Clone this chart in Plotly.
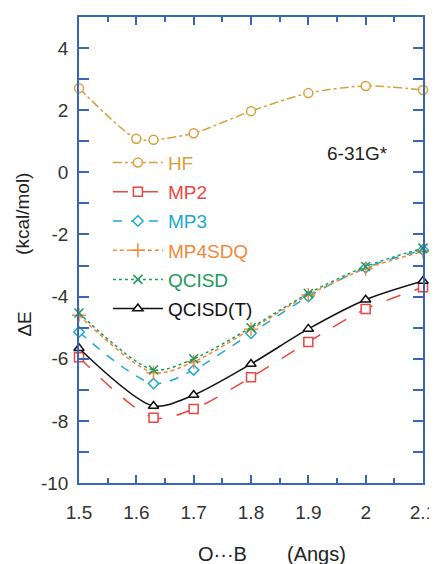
import plotly.graph_objects as go

# O...B distance (Angs)
r_hf = [1.5, 1.6, 1.63, 1.7, 1.8, 1.9, 2.0, 2.1]
r = [1.5, 1.63, 1.7, 1.8, 1.9, 2.0, 2.1]

# Delta E (kcal/mol)
hf = [2.71, 1.08, 1.05, 1.26, 1.97, 2.55, 2.78, 2.65]
mp2 = [-5.95, -7.9, -7.62, -6.6, -5.46, -4.4, -3.7]
mp3 = [-5.14, -6.8, -6.36, -5.18, -4.0, -3.07, -2.5]
mp4sdq = [-4.6, -6.45, -6.1, -5.05, -3.95, -3.1, -2.55]
qcisd = [-4.53, -6.36, -6.0, -5.0, -3.9, -3.03, -2.44]
qcisdt = [-5.66, -7.52, -7.17, -6.17, -5.04, -4.1, -3.5]

xticks = [1.5, 1.6, 1.7, 1.8, 1.9, 2.0, 2.1]
xtick_text = ["1.5", "1.6", "1.7", "1.8", "1.9", "2", "2.1"]
yticks = [-10, -8, -6, -4, -2, 0, 2, 4]
ytick_text = ["-10", "-8", "-6", "-4", "-2", "0", "2", "4"]

blue = "#3a66b8"
txt = "#222222"

series = [
    ("HF", r_hf, hf, "#d9a03a", "dashdot", "circle", 9),
    ("MP2", r, mp2, "#e8483f", "longdash", "square", 9),
    ("MP3", r, mp3, "#1ea8cf", "dash", "diamond", 8),
    ("MP4SDQ", r, mp4sdq, "#f08a3c", "4px,3px", "cross-thin", 10),
    ("QCISD", r, qcisd, "#1e9a5a", "dot", "x-thin", 9),
    ("QCISD(T)", r, qcisdt, "#111111", "solid", "triangle-up", 9),
]

fig = go.Figure()
for i, (name, xs, ys, col, dash, sym, sz) in enumerate(series):
    thin = sym.endswith("thin")
    fig.add_trace(go.Scatter(
        x=xs, y=ys, mode="lines+markers",
        name='<span style="color:%s">%s</span>' % (col, name),
        legendgroup="g%d" % i,
        line=dict(color=col, width=1.5, dash=dash, shape="spline", smoothing=0.8),
        marker=dict(symbol=sym, size=sz, color=col if thin else "white",
                    line=dict(color=col, width=1.5)),
        cliponaxis=False,
    ))

fig.add_annotation(x=1.985, y=0.6, text="6-31G*", showarrow=False,
                   font=dict(size=19, color=txt))
fig.add_annotation(xref="paper", yref="paper", x=-0.157, y=0.342, text="ΔE",
                   xanchor="center", yanchor="middle",
                   textangle=-90, showarrow=False, font=dict(size=19, color=txt))
fig.add_annotation(xref="paper", yref="paper", x=-0.165, y=0.578, text="(kcal/mol)",
                   xanchor="center", yanchor="middle",
                   textangle=-90, showarrow=False, font=dict(size=19, color=txt))
fig.add_annotation(xref="paper", yref="paper", x=0.416, y=-0.153, text="O···B",
                   xanchor="center", yanchor="middle",
                   showarrow=False, font=dict(size=20, color=txt))
fig.add_annotation(xref="paper", yref="paper", x=0.689, y=-0.153, text="(Angs)",
                   xanchor="center", yanchor="middle",
                   showarrow=False, font=dict(size=20, color=txt))

fig.update_xaxes(range=[1.5, 2.1], tickvals=xticks, ticktext=xtick_text,
                 ticks="inside", ticklen=8, tickwidth=1.5, tickcolor=blue,
                 mirror="ticks", showline=True, linecolor=blue, linewidth=1.5,
                 showgrid=False, zeroline=False, ticklabelstandoff=11,
                 tickfont=dict(size=19, color="#333"),
                 minor=dict(dtick=0.05, tick0=1.5, ticks="inside", ticklen=5,
                            tickcolor=blue, tickwidth=1.5))
fig.update_yaxes(range=[-10, 5], tickvals=yticks, ticktext=ytick_text,
                 ticks="inside", ticklen=10, tickwidth=1.5, tickcolor=blue,
                 mirror="ticks", showline=True, linecolor=blue, linewidth=1.5,
                 showgrid=False, zeroline=False, ticklabelstandoff=5,
                 tickfont=dict(size=19, color="#333"),
                 minor=dict(dtick=1, tick0=0, ticks="inside", ticklen=10,
                            tickcolor=blue, tickwidth=1.5))

# the page body adds an 8px offset, so the margins are shifted to compensate
fig.update_layout(
    width=437, height=564,
    margin=dict(l=71, r=22, t=7, b=89),
    plot_bgcolor="white", paper_bgcolor="white",
    font=dict(family="Arial, Liberation Sans, sans-serif"),
    legend=dict(x=0.084, y=0.728, xanchor="left", yanchor="top",
                bgcolor="rgba(0,0,0,0)", font=dict(size=19),
                itemwidth=50, traceorder="grouped", tracegroupgap=1.5),
)

fig.write_html("out.html")
